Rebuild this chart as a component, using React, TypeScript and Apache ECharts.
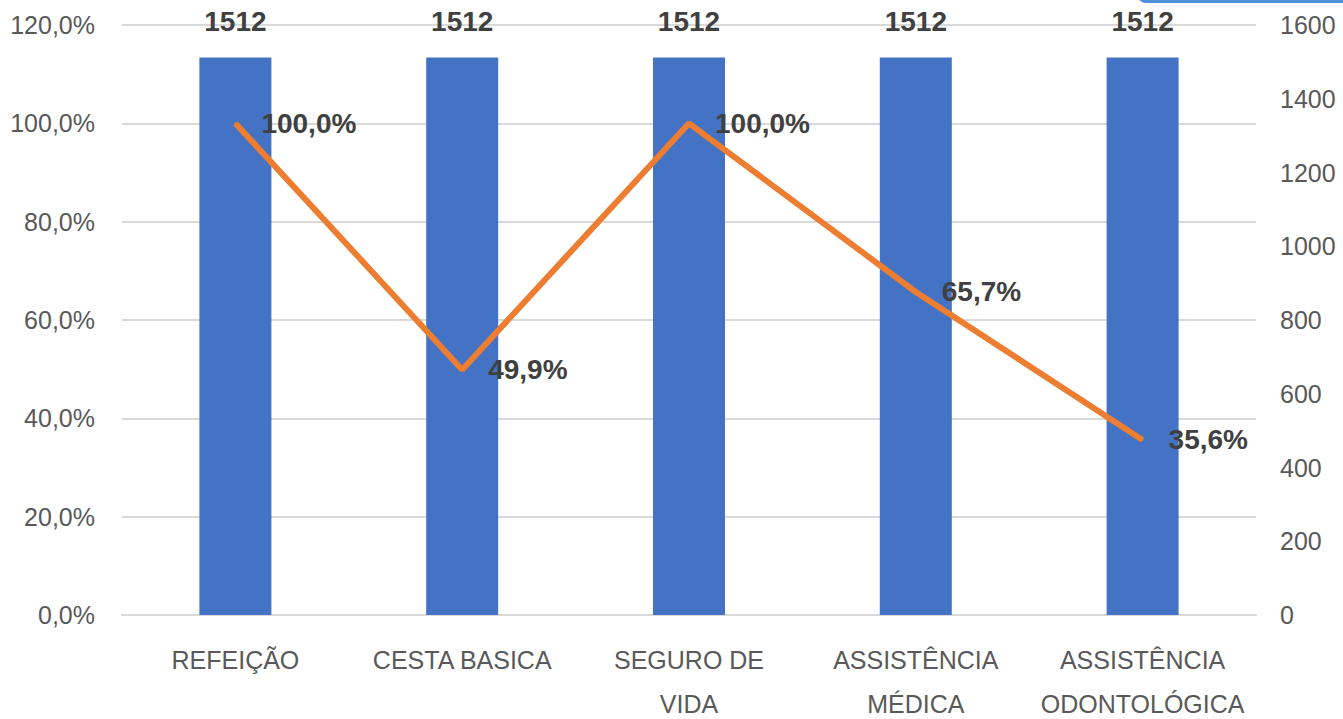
import React, { useEffect, useRef } from "react";
import * as echarts from "echarts";

const categories = ["REFEIÇÃO", "CESTA BASICA", "SEGURO DE\nVIDA", "ASSISTÊNCIA\nMÉDICA", "ASSISTÊNCIA\nODONTOLÓGICA"];
const barValues = [1512, 1512, 1512, 1512, 1512];
const percentValues = [100.0, 49.9, 100.0, 65.7, 35.6];

const FONT = "'Liberation Sans', Arial, sans-serif";

export default function App() {
  const ref = useRef<HTMLDivElement>(null);
  useEffect(() => {
    if (!ref.current) return;
    const chart = echarts.init(ref.current, null, { renderer: "svg" });
    const pct = (v: number) => v.toFixed(1).replace(".", ",") + "%";
    chart.setOption({
      animation: false,
      backgroundColor: "#ffffff",
      textStyle: { fontFamily: FONT },
      grid: { left: 122, right: 87, top: 25, bottom: 104, outerBoundsMode: "none", containLabel: false },
      graphic: [
        {
          type: "rect",
          shape: { x: 1138, y: -12, width: 220, height: 15, r: 8 },
          style: { fill: "#4f8fdc" },
        },
      ],
      xAxis: {
        type: "category",
        data: categories,
        axisTick: { show: false },
        axisLine: { lineStyle: { color: "#d9d9d9", width: 2 } },
        axisLabel: {
          color: "#595959",
          fontSize: 25,
          fontFamily: FONT,
          lineHeight: 44,
          margin: 23,
          interval: 0,
        },
      },
      yAxis: [
        {
          type: "value",
          min: 0,
          max: 120,
          interval: 20,
          axisLine: { show: false },
          axisTick: { show: false },
          splitLine: { lineStyle: { color: "#d9d9d9", width: 2 } },
          axisLabel: {
            color: "#595959",
            fontSize: 25,
            fontFamily: FONT,
            margin: 27,
            formatter: pct,
          },
        },
        {
          type: "value",
          min: 0,
          max: 1600,
          interval: 200,
          position: "right",
          axisLine: { show: false },
          axisTick: { show: false },
          splitLine: { show: false },
          axisLabel: {
            color: "#595959",
            fontSize: 25,
            fontFamily: FONT,
            margin: 24,
            formatter: (v: number) => String(v),
          },
        },
      ],
      series: [
        {
          type: "bar",
          yAxisIndex: 1,
          data: barValues,
          barWidth: 72,
          itemStyle: { color: "#4472c4" },
          label: {
            show: true,
            position: "top",
            distance: 22,
            color: "#404040",
            fontSize: 28,
            fontWeight: "bold",
            fontFamily: FONT,
          },
          z: 1,
        },
        {
          type: "line",
          yAxisIndex: 0,
          data: percentValues,
          symbol: "circle",
          symbolSize: 2,
          showSymbol: true,
          itemStyle: { color: "#ed7d31" },
          lineStyle: { color: "#ed7d31", width: 6 },
          label: {
            show: true,
            position: "right",
            distance: 25,
            color: "#404040",
            fontSize: 28,
            fontWeight: "bold",
            fontFamily: FONT,
            formatter: (p: any) => pct(p.value),
          },
          labelLayout: { hideOverlap: false },
          z: 3,
        },
      ],
    });
    return () => chart.dispose();
  }, []);
  return <div ref={ref} style={{ position: "fixed", left: 0, top: 0, width: 1343, height: 719 }} />;
}
